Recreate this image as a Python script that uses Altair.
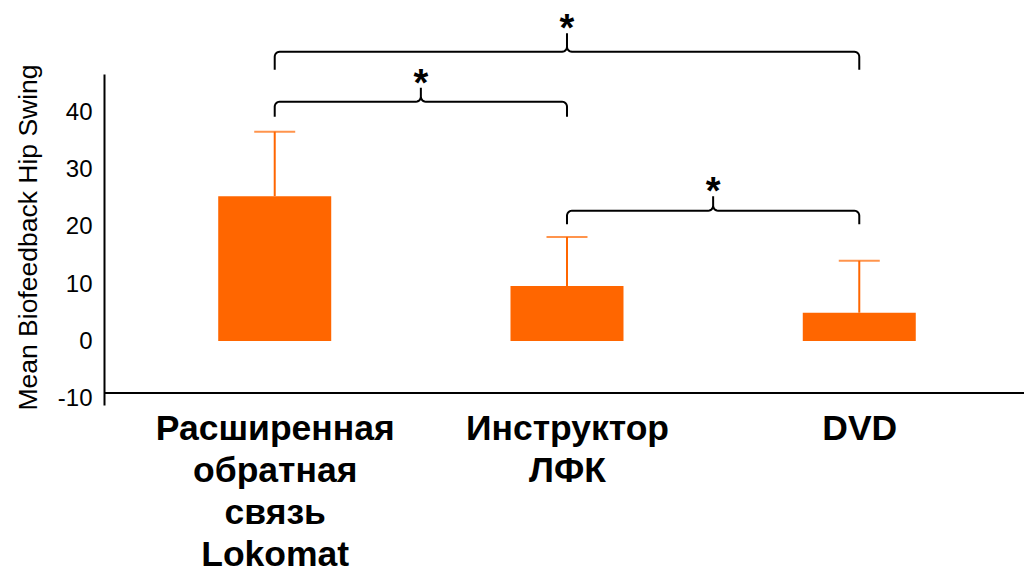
import json
import math
import altair as alt
import pandas as pd

# ---- data ----
categories = ["Расширенная обратная связь Lokomat", "Инструктор ЛФК", "DVD"]
means = [25.4, 9.65, 4.97]
errors = [11.3, 8.6, 9.1]
y_ticks = [-10, 0, 10, 20, 30, 40]
y_title = "Mean Biofeedback Hip Swing"

bracket_from = [0, 0, 1]
bracket_to = [2, 1, 2]
bracket_level = [50.7, 41.95, 22.85]
bracket_label = ["*", "*", "*"]

# ---- layout / style ----
W, H = 920, 331
X_DOMAIN = [-0.567, 2.5465]
Y_DOMAIN = [-11.2, 46.8]
AXIS_Y = -9.1
ORANGE = "#FF6600"
FONT = "Liberation Sans"
kx = (X_DOMAIN[1] - X_DOMAIN[0]) / W
ky = (Y_DOMAIN[1] - Y_DOMAIN[0]) / H
drops = [18, 15, 13.5]
rises = [18.5, 14, 14.5]
RAD = 5

bars_df = pd.DataFrame({"x": list(range(len(categories))), "cat": categories,
                        "y": means, "err": errors})
bars_df["upper"] = bars_df["y"] + bars_df["err"]


def arc(cx, cy, r, a0, a1, n=6):
    pts = []
    for t in range(n + 1):
        a = math.radians(a0 + (a1 - a0) * t / n)
        pts.append((cx + r * math.cos(a), cy + r * math.sin(a)))
    return pts


rows = []
stars = []
for b, (i, j, lev) in enumerate(zip(bracket_from, bracket_to, bracket_level)):
    d, rs = drops[b], rises[b]
    w = (j - i) / kx
    m = w / 2
    pts = [(0, -d)]
    pts += arc(RAD, -RAD, RAD, 180, 90)
    pts += arc(m - RAD, RAD, RAD, -90, 0)
    pts += [(m, rs), (m, RAD)]
    pts += arc(m + RAD, RAD, RAD, 180, 270)
    pts += arc(w - RAD, -RAD, RAD, 90, 0)
    pts += [(w, -d)]
    for k, (px, py) in enumerate(pts):
        rows.append({"b": b, "k": k, "x": i + px * kx, "y": lev + py * ky})
    stars.append({"x": (i + j) / 2, "y": lev + rs * ky, "t": bracket_label[b]})
br_df = pd.DataFrame(rows)
star_df = pd.DataFrame(stars)

label_expr = "split(" + json.dumps(categories, ensure_ascii=False) + "[datum.value], ' ')"

x_axis = alt.Axis(values=[0, 1, 2], labelExpr=label_expr, domain=False, ticks=False,
                  tickSize=0, grid=False, labelFont=FONT, labelFontSize=35.5,
                  labelFontWeight="bold", labelLineHeight=42, labelPadding=6,
                  labelColor="black", labelFlush=False, labelOverlap=False,
                  labelLimit=0)
y_axis = alt.Axis(values=y_ticks, grid=False, ticks=False, tickSize=0,
                  labelExpr="'' + datum.value",
                  labelFont=FONT, labelFontSize=24, labelColor="black", labelPadding=12,
                  domainColor="black", domainWidth=2,
                  titleFont=FONT, titleFontSize=26.5, titleFontWeight="normal",
                  titleColor="black", titleX=-62, titleY=163)
xs = alt.Scale(domain=X_DOMAIN, nice=False, zero=False)
ys = alt.Scale(domain=Y_DOMAIN, nice=False, zero=False)


def X(f="x"):
    return alt.X(f + ":Q", scale=xs, axis=x_axis, title=None)


def Y(f="y"):
    return alt.Y(f + ":Q", scale=ys, axis=y_axis, title=y_title)


base = alt.Chart(bars_df)
bars = base.mark_bar(width=113, color=ORANGE).encode(x=X(), y=Y(), y2=alt.datum(0))
stems = base.mark_rule(color=ORANGE, strokeWidth=2).encode(x=X(), y=Y(), y2="upper:Q")
caps = base.mark_tick(color=ORANGE, orient="horizontal", size=41, thickness=2).encode(
    x=X(), y=Y("upper"))
xline = alt.Chart(bars_df).mark_rule(color="black", strokeWidth=2).encode(
    x=alt.value(0), x2=alt.value(W), y=alt.datum(AXIS_Y, scale=ys, axis=y_axis, title=y_title))
brackets = alt.Chart(br_df).mark_line(color="black", strokeWidth=2, clip=False).encode(
    x=X(), y=Y(), detail="b:N", order="k:Q")
star_txt = alt.Chart(star_df).mark_text(font=FONT, fontSize=38, fontWeight="bold",
                                        color="black", baseline="alphabetic", dy=8).encode(
    x=X(), y=Y(), text="t:N")

chart = alt.layer(bars, stems, caps, xline, brackets, star_txt).properties(
    width=W, height=H,
    autosize=alt.AutoSizeParams(type="none"),
    padding={"left": 96, "top": 66, "right": 0, "bottom": 170},
    background="white",
).configure_view(stroke=None)

chart.save("out.html", embed_options={"renderer": "svg", "actions": False})
